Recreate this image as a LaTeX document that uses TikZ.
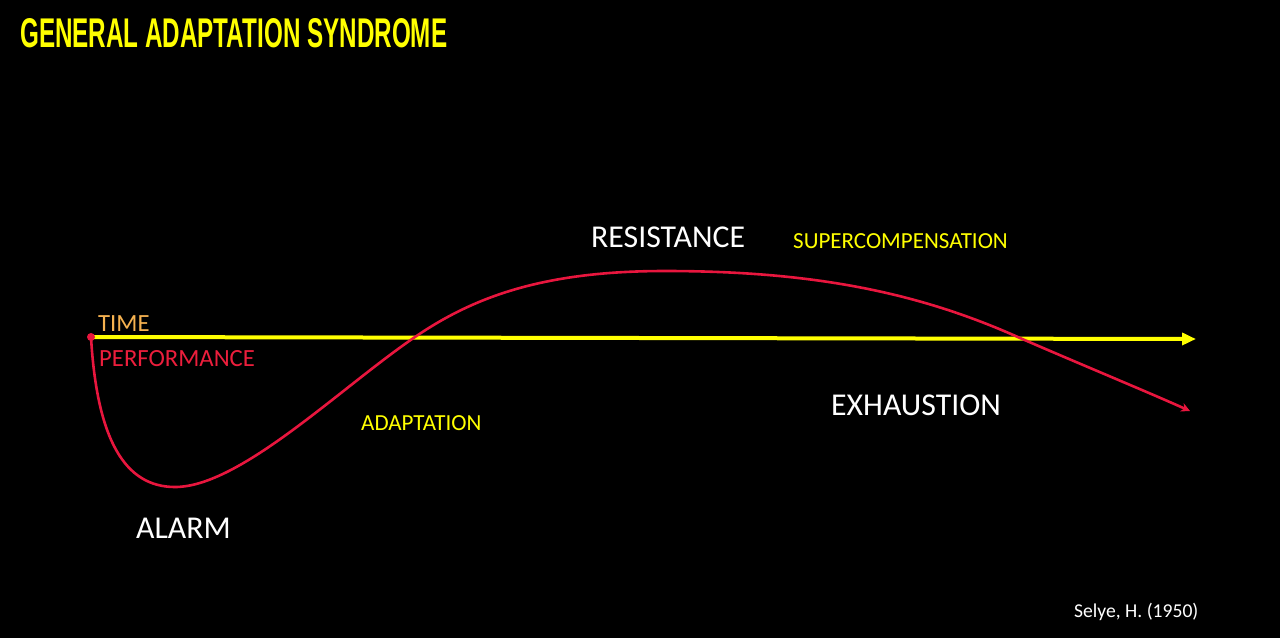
\documentclass[tikz,border=0pt]{standalone}
\usepackage{fontspec}
\setmainfont{Carlito}
\newfontfamily\titlefont{Liberation Sans}
\usetikzlibrary{arrows.meta}
\definecolor{ttlyellow}{RGB}{255,255,0}
\definecolor{axisyellow}{RGB}{255,255,0}
\definecolor{curvered}{RGB}{232,22,62}
\definecolor{timeorange}{RGB}{246,178,80}
\definecolor{perfred}{RGB}{236,30,60}
\begin{document}
\begin{tikzpicture}[x=1pt,y=-1pt,
  lbl/.style={anchor=base west,inner sep=0pt,font=\fontsize{23}{23}\selectfont},
  axlbl/.style={anchor=base west,inner sep=0pt,font=\fontsize{24.7}{24.7}\selectfont},
  biglbl/.style={anchor=base west,inner sep=0pt,font=\fontsize{31.8}{31.8}\selectfont,text=white},
  axisline/.style={draw=axisyellow,line width=4pt,-{Triangle[length=14pt,width=12pt]}},
  curveline/.style={draw=curvered,line width=2.6pt,-{Stealth[length=9pt,width=9pt]}}]
\useasboundingbox[fill=black] (0,0) rectangle (1280,638);
% title
\node[anchor=base west,inner sep=0pt,text=ttlyellow] (title) at (20,47)
  {\resizebox{427pt}{29pt}{\titlefont\bfseries GENERAL ADAPTATION SYNDROME}};
% axis
\coordinate (origin) at (91,337);
\coordinate (axisend) at (1196,339);
\draw[axisline] (origin) -- (axisend);
% curve
\coordinate (c0) at (91,337);
\coordinate (c1) at (175,487);
\coordinate (c2) at (415,337);
\coordinate (c3) at (665,271);
\coordinate (c4) at (1020,338);
\coordinate (c5) at (1190,411);
\draw[curveline] (c0) .. controls (97,440) and (125,487) .. (c1)
  .. controls (240,487) and (340,388) .. (c2)
  .. controls (475,296) and (545,271) .. (c3)
  .. controls (815,271) and (920,293) .. (c4)
  .. controls (1080,364) and (1150,393) .. (c5);
\fill[curvered] (origin) circle (4pt);
% labels
\node[axlbl,text=timeorange] (time) at (98,331) {TIME};
\node[axlbl,text=perfred] (perf) at (99,366) {PERFORMANCE};
\node[lbl,text=ttlyellow] (adapt) at (361,430) {ADAPTATION};
\node[lbl,text=ttlyellow] (super) at (793,248) {SUPERCOMPENSATION};
\node[biglbl] (resist) at (591,247) {RESISTANCE};
\node[biglbl] (exh) at (831,415) {EXHAUSTION};
\node[biglbl] (alarm) at (136,538) {ALARM};
\node[anchor=base west,inner sep=0pt,text=white,font=\fontsize{19.6}{19.6}\selectfont] (selye) at (1074,617) {Selye, H. (1950)};
\end{tikzpicture}
\end{document}
